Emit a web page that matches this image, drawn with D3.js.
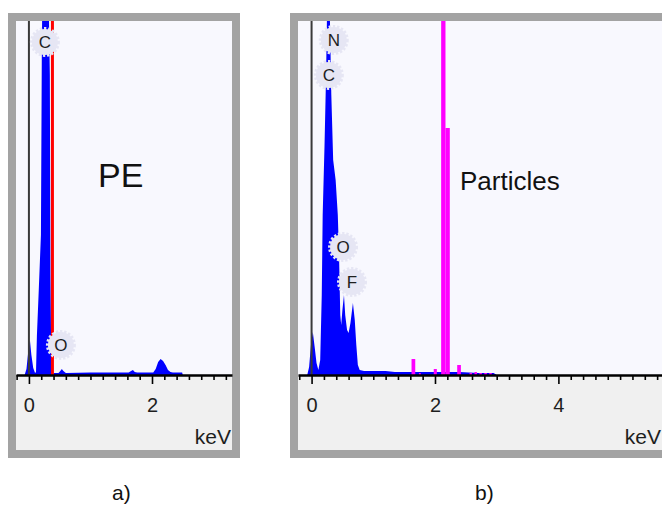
<!DOCTYPE html>
<html>
<head>
<meta charset="utf-8">
<script src="https://cdn.jsdelivr.net/npm/d3@7"></script>
<style>
  body { margin: 0; background: #fff; }
  svg { display: block; }
  text { font-family: "Liberation Sans", Arial, sans-serif; }
</style>
</head>
<body>
<svg id="chart" width="662" height="505"></svg>
<script>
// ---- EDS spectrum a): PE film (energy in keV, counts) ----
const peEnergy = [-0.07, -0.04, -0.01, 0.016, 0.04, 0.07, 0.10, 0.115, 0.13, 0.16, 0.195, 0.21, 0.24, 0.268,
  0.29, 0.32, 0.34, 0.35, 0.365, 0.40, 0.48, 0.51, 0.535, 0.56, 0.60, 1.00, 1.40, 1.62, 1.66, 1.69, 1.72,
  1.76, 2.02, 2.06, 2.10, 2.14, 2.18, 2.22, 2.26, 2.30, 2.34, 2.49, 2.50];
const peCounts = [0, 6, 24, 35, 20, 7, 2, 3, 40, 85, 140, 330, 500, 600,
  500, 380, 300, 100, 3, 2, 2, 4, 6, 4, 2, 2.5, 2.5, 2.5, 4, 5, 3,
  2.5, 2.5, 6, 13, 16, 14, 10, 5, 3, 2.5, 2.5, 0];

// ---- EDS spectrum b): particles ----
const partEnergy = [-0.07, -0.04, -0.01, 0.02, 0.05, 0.08, 0.11, 0.14, 0.165, 0.18, 0.21, 0.235, 0.265, 0.29,
  0.32, 0.35, 0.39, 0.425, 0.445, 0.465, 0.48, 0.50, 0.525, 0.545, 0.575, 0.60, 0.63, 0.67, 0.70, 0.725,
  0.75, 0.78, 0.85, 1.00, 1.20, 1.35, 1.60, 2.00, 2.40, 2.70, 2.95, 3.00];
const partCounts = [0, 8, 30, 43, 28, 12, 5, 15, 80, 160, 230, 300, 420, 380,
  280, 215, 195, 160, 120, 60, 50, 65, 80, 60, 45, 42, 52, 72, 55, 30,
  10, 5, 4, 4, 4, 3, 3, 3, 3, 2, 2, 0];

// Second trace of b), binned: bin start (keV), bin end (keV), counts
const binStart  = [1.62, 1.74, 1.98, 2.10, 2.17, 2.36, 2.56, 2.64, 2.72, 2.80, 2.88];
const binEnd    = [1.68, 1.77, 2.03, 2.17, 2.24, 2.42, 2.60, 2.68, 2.76, 2.84, 2.92];
const binCounts = [16, 2, 6, 600, 247, 10, 2, 3, 2, 2, 2];

// Marker line in a) (keV)
const peMarkerKeV = [0.382];

// Element identifications
const peElements = ["C", "O"];
const partElements = ["N", "C", "O", "F"];
const peElementKeV = [0.26, 0.52];
const partElementKeV = [0.36, 0.28, 0.51, 0.655];

// Axis ticks
const tickStep = 0.2;
const labelledTicks = [0, 2, 4];
const axisUnit = "keV";
const panelTitles = ["PE", "Particles"];
const panelLetters = ["a)", "b)"];

const countsMax = 354;

const svg = d3.select("#chart");

function drawPanel(p, idx) {
  const g = svg.append("g");

  // grey frame and backgrounds
  g.append("rect")
    .attr("x", p.outer[0]).attr("y", p.outer[1])
    .attr("width", p.outer[2] - p.outer[0]).attr("height", p.outer[3] - p.outer[1])
    .attr("fill", "#a3a3a3");
  g.append("rect")
    .attr("x", p.left).attr("y", p.top)
    .attr("width", p.right - p.left).attr("height", p.bottom - p.top)
    .attr("fill", "#f0f0f0");
  g.append("rect")
    .attr("x", p.left).attr("y", p.top)
    .attr("width", p.right - p.left).attr("height", p.axisY - p.top)
    .attr("fill", "#f8f8fe");

  const x = d3.scaleLinear().domain(p.domain).range([p.left, p.right]);
  const y = d3.scaleLinear().domain([0, countsMax]).range([p.axisY, p.top]);

  const clipId = "clip" + idx;
  g.append("clipPath").attr("id", clipId)
    .append("rect")
    .attr("x", p.left).attr("y", p.top)
    .attr("width", p.right - p.left).attr("height", p.axisY - p.top);

  const plot = g.append("g").attr("clip-path", `url(#${clipId})`);

  const area = d3.area()
    .x(d => x(d[0]))
    .y0(y(0))
    .y1(d => y(d[1]));

  plot.append("path")
    .datum(d3.zip(p.energy, p.counts))
    .attr("d", area)
    .attr("fill", "#0000ff");

  if (p.bins) {
    plot.selectAll("rect.bin")
      .data(d3.zip(p.bins[0], p.bins[1], p.bins[2]))
      .join("rect")
      .attr("class", "bin")
      .attr("x", d => x(d[0]))
      .attr("width", d => x(d[1]) - x(d[0]))
      .attr("y", d => y(d[2]))
      .attr("height", d => y(0) - y(d[2]))
      .attr("fill", "#ff00ff");
  }

  // zero-energy line
  plot.append("line")
    .attr("x1", x(0)).attr("x2", x(0))
    .attr("y1", p.top).attr("y2", p.axisY)
    .attr("stroke", "#3a3a3a").attr("stroke-width", 2);

  (p.markers || []).forEach(m => {
    plot.append("line")
      .attr("x1", x(m)).attr("x2", x(m))
      .attr("y1", p.top).attr("y2", p.axisY)
      .attr("stroke", "#ff0000").attr("stroke-width", 3);
  });

  // energy axis
  const nTicks = Math.floor((p.domain[1] - p.domain[0]) / tickStep) + 2;
  const ticks = d3.range(nTicks)
    .map(i => Math.ceil(p.domain[0] / tickStep) * tickStep + i * tickStep)
    .filter(v => v >= p.domain[0] && v <= p.domain[1]);
  const isLabelled = v => labelledTicks.some(t => Math.abs(t - v) < 1e-6);

  const axis = g.append("g")
    .attr("transform", `translate(0,${p.axisY})`)
    .call(d3.axisBottom(x)
      .tickValues(ticks)
      .tickSize(5)
      .tickSizeOuter(0)
      .tickPadding(18)
      .tickFormat(v => isLabelled(v) ? d3.format("d")(Math.round(v)) : ""));
  axis.select(".domain").attr("stroke", "#000").attr("stroke-width", 2.5);
  axis.selectAll(".tick line")
    .attr("stroke", "#000").attr("stroke-width", 1.6)
    .attr("y2", d => isLabelled(d) ? 9 : 5);
  axis.selectAll(".tick text")
    .attr("fill", "#1e1e1e")
    .style("font-size", "20px")
    .style("font-family", "'Liberation Sans', Arial, sans-serif");

  g.append("text")
    .attr("x", p.unitX).attr("y", p.unitY)
    .attr("text-anchor", "end")
    .attr("fill", "#1e1e1e")
    .style("font-size", "21px")
    .text(axisUnit);

  // element labels on lavender discs
  const labels = g.append("g").selectAll("g")
    .data(d3.zip(p.elements, p.elementKeV, p.elementY))
    .join("g")
    .attr("transform", d => `translate(${x(d[1])},${d[2]})`);
  labels.append("circle")
    .attr("r", 13)
    .attr("fill", "#e6e6f4")
    .attr("stroke", "#e6e6f4")
    .attr("stroke-width", 4)
    .attr("stroke-dasharray", "2.2 1.8");
  labels.append("text")
    .attr("text-anchor", "middle")
    .attr("dy", "0.36em")
    .attr("fill", "#1e1e1e")
    .style("font-size", "17px")
    .text(d => d[0]);

  // panel title and letter
  g.append("text")
    .attr("x", p.titleX).attr("y", p.titleY)
    .attr("fill", "#111")
    .style("font-size", p.titleSize + "px")
    .text(p.title);

  svg.append("text")
    .attr("x", p.letterX).attr("y", 500)
    .attr("fill", "#111")
    .style("font-size", "21px")
    .text(p.letter);
}

drawPanel({
  outer: [8, 13, 240, 458],
  left: 16, right: 232, top: 21, bottom: 450, axisY: 375,
  domain: [-0.21, 3.30],
  energy: peEnergy, counts: peCounts,
  markers: peMarkerKeV,
  elements: peElements, elementKeV: peElementKeV, elementY: [42, 345],
  unitX: 231, unitY: 444,
  title: panelTitles[0], titleX: 98, titleY: 187, titleSize: 34,
  letter: panelLetters[0], letterX: 112
}, 0);

drawPanel({
  outer: [290, 13, 700, 458],
  left: 298, right: 667, top: 21, bottom: 450, axisY: 375,
  domain: [-0.22, 5.76],
  energy: partEnergy, counts: partCounts,
  bins: [binStart, binEnd, binCounts],
  elements: partElements, elementKeV: partElementKeV, elementY: [40, 75, 247, 282],
  unitX: 661, unitY: 444,
  title: panelTitles[1], titleX: 460, titleY: 190, titleSize: 26,
  letter: panelLetters[1], letterX: 475
}, 1);
</script>
</body>
</html>
